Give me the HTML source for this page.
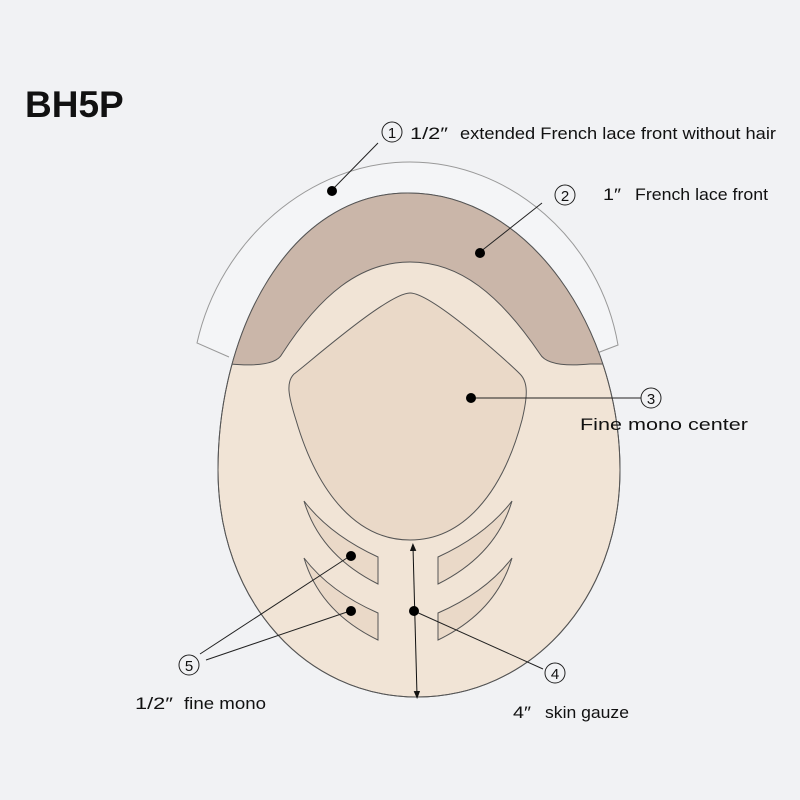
<!DOCTYPE html>
<html><head><style>
html,body{margin:0;padding:0;background:#f1f2f4;}
svg{display:block}
text{font-family:"Liberation Sans",sans-serif;fill:#111;}
</style></head><body>
<svg width="800" height="800" viewBox="0 0 800 800">
<rect width="800" height="800" fill="#f1f2f4"/>
<defs>
<clipPath id="egg"><path d="M408,193 C 530,193 620,330 620,470 C 620,600 530,697 417,697 C 305,697 218,600 218,470 C 218,330 290,193 408,193 Z"/></clipPath>
<marker id="ah" viewBox="0 0 10 10" refX="5" refY="5" markerWidth="8" markerHeight="8" orient="auto-start-reverse"><path d="M0,1 L10,5 L0,9 Z" fill="#111"/></marker>
</defs>
<text x="25" y="117" font-size="37" font-weight="bold">BH5P</text>
<path d="M229,357 L197,343 C 220,240 310,162 410,162 C 510,162 600,240 618,345 L584,358" fill="#f4f5f7" stroke="#999" stroke-width="1"/>
<path d="M408,193 C 530,193 620,330 620,470 C 620,600 530,697 417,697 C 305,697 218,600 218,470 C 218,330 290,193 408,193 Z" fill="#f1e4d6" stroke="#555" stroke-width="1"/>
<path clip-path="url(#egg)" d="M150,150 L670,150 L670,364 L590,364 Q548,368 540,354 C 500,295 460,262 410,262 C 360,262 320,295 282,354 Q275,368 230,364 L150,364 Z" fill="#cab6a9" stroke="#555" stroke-width="1"/>
<path d="M408,193 C 530,193 620,330 620,470 C 620,600 530,697 417,697 C 305,697 218,600 218,470 C 218,330 290,193 408,193 Z" fill="none" stroke="#555" stroke-width="1"/>
<path d="M410,293 C 388,293 310,362 294,374 C 286,382 288,395 296,420 C 318,495 358,540 410,540 C 462,540 502,495 522,420 C 528,395 528,382 520,374 C 508,362 432,293 410,293 Z" fill="#ead9c8" stroke="#555" stroke-width="1"/>
<g fill="#ead9c8" stroke="#555" stroke-width="1">
<path d="M304,501 Q320,555 378,584 L378,557 Q330,535 304,501 Z"/>
<path d="M304,558 Q320,612 378,640 L378,613 Q330,592 304,558 Z"/>
<path d="M512,501 Q496,555 438,584 L438,557 Q486,535 512,501 Z"/>
<path d="M512,558 Q496,612 438,640 L438,613 Q486,592 512,558 Z"/>
</g>
<line x1="413" y1="547" x2="417" y2="695" stroke="#111" stroke-width="1" marker-start="url(#ah)" marker-end="url(#ah)"/>
<g stroke="#222" stroke-width="1">
<line x1="378" y1="143" x2="332" y2="190"/>
<line x1="542" y1="203" x2="480" y2="252"/>
<line x1="472" y1="398" x2="641" y2="398"/>
<line x1="200" y1="654" x2="350" y2="556"/>
<line x1="206" y1="660" x2="350" y2="611"/>
<line x1="414" y1="611" x2="543" y2="669"/>
</g>
<g fill="#000">
<circle cx="332" cy="191" r="5"/>
<circle cx="480" cy="253" r="5"/>
<circle cx="471" cy="398" r="5"/>
<circle cx="351" cy="556" r="5"/>
<circle cx="351" cy="611" r="5"/>
<circle cx="414" cy="611" r="5"/>
</g>
<g fill="none" stroke="#222" stroke-width="1">
<circle cx="392" cy="132" r="10"/>
<circle cx="565" cy="195" r="10"/>
<circle cx="651" cy="398" r="10"/>
<circle cx="189" cy="665" r="10"/>
<circle cx="555" cy="673" r="10"/>
</g>
<g font-size="15" text-anchor="middle">
<text x="392" y="138">1</text>
<text x="565" y="201">2</text>
<text x="651" y="404">3</text>
<text x="189" y="671">5</text>
<text x="555" y="679">4</text>
</g>
<g font-size="17">
<text x="410" y="139" textLength="38" lengthAdjust="spacingAndGlyphs">1/2″</text>
<text x="460" y="139" textLength="316" lengthAdjust="spacingAndGlyphs">extended French lace front without hair</text>
<text x="603" y="200" textLength="18" lengthAdjust="spacingAndGlyphs">1″</text>
<text x="635" y="200" textLength="133" lengthAdjust="spacingAndGlyphs">French lace front</text>
<text x="580" y="430" textLength="168" lengthAdjust="spacingAndGlyphs">Fine mono center</text>
<text x="135" y="709" textLength="38" lengthAdjust="spacingAndGlyphs">1/2″</text>
<text x="184" y="709" textLength="82" lengthAdjust="spacingAndGlyphs">fine mono</text>
<text x="513" y="718" textLength="18" lengthAdjust="spacingAndGlyphs">4″</text>
<text x="545" y="718" textLength="84" lengthAdjust="spacingAndGlyphs">skin gauze</text>
</g>
</svg>
</body></html>
